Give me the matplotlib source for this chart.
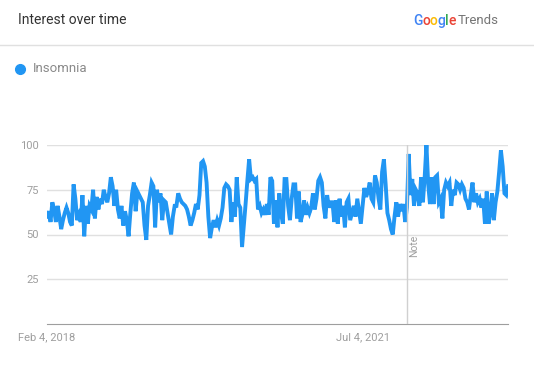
import numpy as np
import pandas as pd
import matplotlib.pyplot as plt
import matplotlib.dates as mdates

plt.rcParams['font.family'] = ['Roboto', 'DejaVu Sans']

# weekly interest values for "Insomnia"
values = [
    60, 63, 57, 68, 64, 57, 66, 60, 53, 58, 62, 65, 62, 57, 55, 78, 70, 58, 61, 57,
    72, 49, 66, 56, 66, 64, 75, 59, 71, 64, 70, 67, 75, 71, 68, 73, 82, 77, 66, 75,
    64, 59, 66, 55, 63, 58, 49, 62, 73, 79, 63, 74, 72, 70, 68, 55, 47, 66, 72, 79,
    77, 54, 75, 68, 73, 58, 69, 68, 62, 56, 50, 60, 66, 66, 73, 70, 68, 67, 66, 64,
    60, 55, 58, 62, 67, 64, 72, 90, 91, 88, 79, 60, 48, 54, 58, 54, 58, 55, 59, 65,
    76, 78, 77, 75, 57, 68, 60, 82, 67, 65, 43, 55, 67, 80, 92, 81, 82, 80, 81, 64,
    66, 62, 64, 61, 67, 61, 82, 80, 56, 69, 54, 73, 62, 56, 81, 81, 66, 58, 70, 78,
    78, 59, 74, 57, 61, 69, 61, 65, 62, 65, 73, 64, 70, 80, 82, 79, 66, 59, 72, 65,
    68, 68, 57, 69, 56, 70, 60, 66, 54, 68, 70, 58, 62, 66, 60, 70, 63, 56, 66, 76,
    71, 74, 79, 70, 68, 83, 79, 70, 64, 85, 92, 78, 62, 58, 53, 50, 60, 68, 60, 67,
    63, 67, 57, 65, 95, 72, 81, 66, 75, 73, 66, 82, 68, 82, 100, 78, 67, 82, 67, 82,
    83, 68, 70, 59, 75, 79, 77, 79, 66, 75, 72, 79, 78, 75, 78, 76, 70, 68, 64, 72,
    79, 68, 73, 68, 70, 65, 70, 56, 74, 56, 62, 73, 58, 68, 74, 85, 97, 88, 73, 72,
    77,
]
dates = pd.date_range('2018-02-04', periods=len(values), freq='W-SUN')
tick_dates = [pd.Timestamp('2018-02-04'), pd.Timestamp('2021-07-04')]
tick_labels = ['Feb 4, 2018', 'Jul 4, 2021']
note_date = pd.Timestamp('2021-12-26')

W, H = 534, 383
fig = plt.figure(figsize=(W / 100, H / 100), dpi=100)
renderer = fig.canvas.get_renderer()

# header
fig.text(18 / W, 1 - 20 / H, 'Interest over time', fontsize=10, color='#333333',
         va='center', ha='left')
logo = [('G', '#4285F4'), ('o', '#EA4335'), ('o', '#FBBC05'), ('g', '#4285F4'),
        ('l', '#34A853'), ('e', '#EA4335')]
x = 413
for ch, col in logo:
    t = fig.text(x / W, 1 - 21 / H, ch, fontsize=10, color=col, va='center',
                 ha='left', fontweight='medium')
    x += t.get_window_extent(renderer).width - 0.3
fig.text((x + 2) / W, 1 - 21 / H, 'Trends', fontsize=9.5, color='#757575',
         va='center', ha='left')
fig.add_artist(plt.Line2D([0, 1], [1 - 45 / H, 1 - 45 / H], color='#e0e0e0', lw=1))

# legend
fig.add_artist(plt.Line2D([20 / W], [1 - 69 / H], marker='o', ms=7, color='#2196F3',
                          lw=0))
fig.text(33 / W, 1 - 69 / H, 'Insomnia', fontsize=9.5, color='#8a8a8a',
         va='center', ha='left')

ax = fig.add_axes([47 / W, 1 - 324 / H, (508 - 47) / W, (324 - 145) / H])
ax.plot(dates, values, color='#2196F3', lw=2.8, solid_joinstyle='miter')
ax.set_ylim(0, 100)
ax.set_xlim(dates[0], dates[-1])
ax.set_yticks([25, 50, 75, 100])
ax.yaxis.grid(True, color='#e0e0e0', lw=1)
ax.set_axisbelow(True)
ax.set_xticks(tick_dates)
ax.set_xticklabels(tick_labels)
ax.tick_params(axis='both', length=0, labelsize=8, labelcolor='#9e9e9e')
ax.tick_params(axis='y', pad=6)
ax.tick_params(axis='x', pad=6)
for s in ['top', 'left', 'right']:
    ax.spines[s].set_visible(False)
ax.spines['bottom'].set_color('#9e9e9e')

ax.axvline(note_date, color='#d0d0d0', lw=1, zorder=3)
ax.text(note_date + pd.Timedelta(days=9), 50, 'Note', rotation=90, fontsize=7.5,
        color='#9e9e9e', ha='left', va='top')

fig.savefig('out.png', dpi=100, facecolor='white')
